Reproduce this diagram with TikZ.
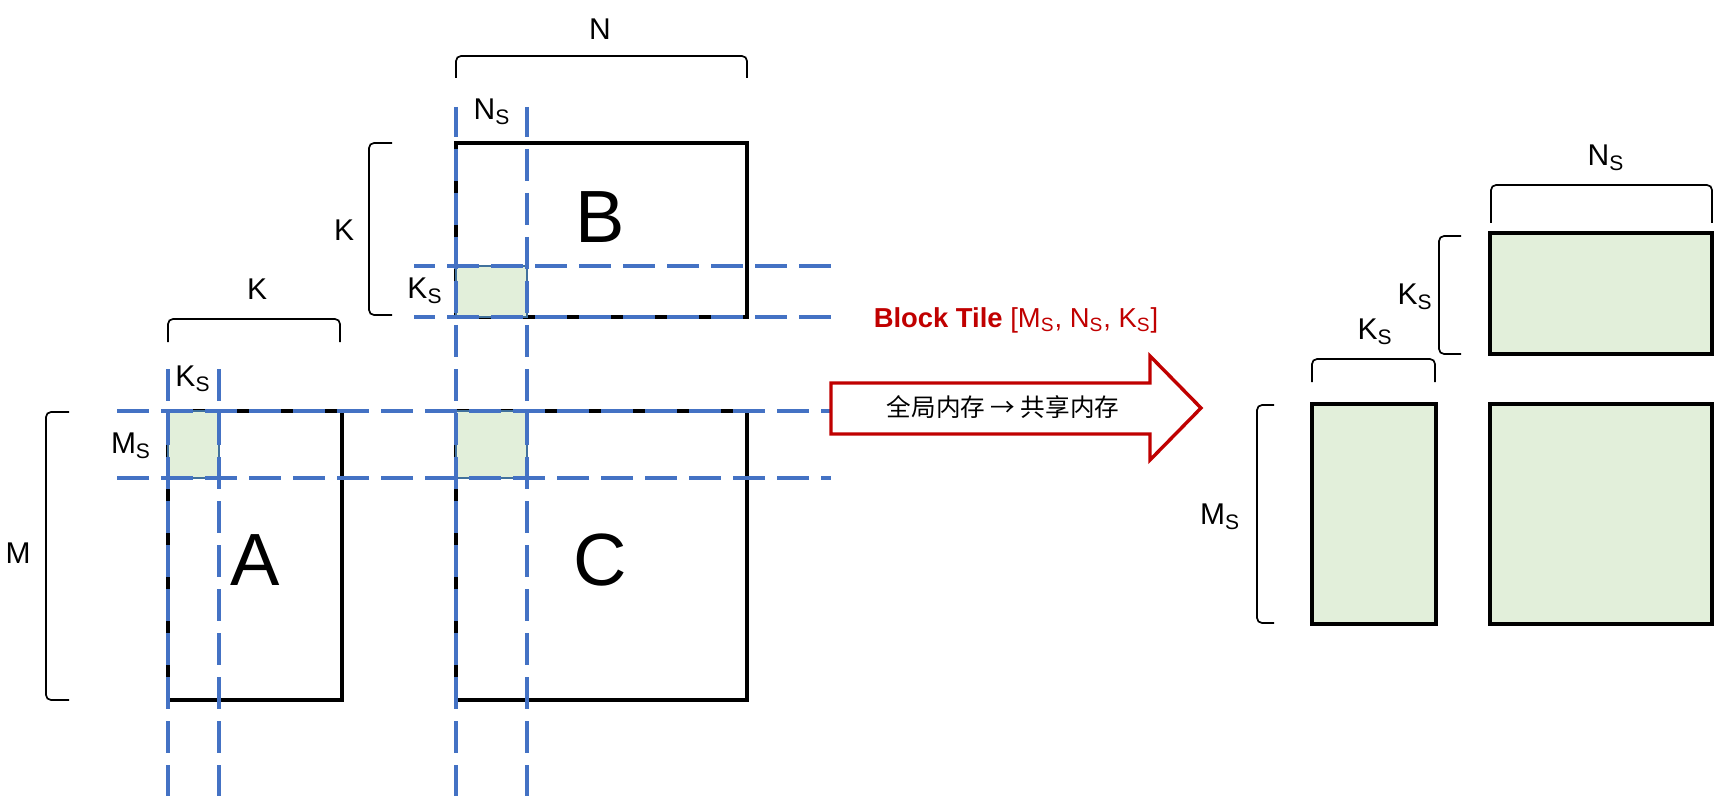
\documentclass[tikz,border=0pt]{standalone}
\usepackage{fontspec}
\setmainfont{Liberation Sans}
\newfontfamily\cjkfont{Noto Sans CJK SC}
\definecolor{guideblue}{HTML}{4472C4}
\definecolor{tilegreen}{HTML}{E2EFDA}
\definecolor{tileedge}{HTML}{41719C}
\definecolor{tilered}{HTML}{C00000}
\begin{document}
\begin{tikzpicture}[x=0.5pt,y=-0.5pt,
  mat/.style={draw=black, line width=2pt},
  tile/.style={fill=tilegreen, draw=tileedge, line width=1.1pt},
  smem/.style={fill=tilegreen, draw=black, line width=2pt},
  guide/.style={draw=guideblue, line width=2pt, dash pattern=on 16pt off 6pt},
  brk/.style={draw=black, line width=0.85pt, rounded corners=2.5pt},
  lbl/.style={font=\fontsize{15}{18}\selectfont, inner sep=0pt},
  big/.style={font=\fontsize{37}{40}\selectfont, inner sep=0pt},
  blockarrow/.style={draw=tilered, line width=1.7pt, fill=white, line join=miter}
]
\useasboundingbox (0,0) rectangle (1732,796);

% ---------- matrices (left) ----------
\draw[mat] (456,143) rectangle (747,317);
\draw[mat] (168,411) rectangle (342,700);
\draw[mat] (456,411) rectangle (747,700);

% ---------- tiles ----------
\draw[tile] (456,266) rectangle (527,317);
\draw[tile] (168,411) rectangle (219,478);
\draw[tile] (456,411) rectangle (527,478);

% ---------- guide lines ----------
\coordinate (h1s) at (414,266); \coordinate (h1e) at (831,266);
\coordinate (h2s) at (414,317); \coordinate (h2e) at (831,317);
\coordinate (h3s) at (117,411); \coordinate (h3e) at (831,411);
\coordinate (h4s) at (117,478); \coordinate (h4e) at (831,478);
\coordinate (v1s) at (168,369); \coordinate (v1e) at (168,796);
\coordinate (v2s) at (219,369); \coordinate (v2e) at (219,796);
\coordinate (v3s) at (456,107); \coordinate (v3e) at (456,796);
\coordinate (v4s) at (527,107); \coordinate (v4e) at (527,796);
\draw[guide, dash phase=5.5pt] (h1s) -- (h1e);
\draw[guide, dash phase=5.5pt] (h2s) -- (h2e);
\draw[guide] (h3s) -- (h3e);
\draw[guide] (h4s) -- (h4e);
\draw[guide] (v1s) -- (v1e);
\draw[guide] (v2s) -- (v2e);
\draw[guide, dash phase=1pt] (v3s) -- (v3e);
\draw[guide, dash phase=1pt] (v4s) -- (v4e);

% ---------- brackets (left) ----------
\draw[brk] (456,78) -- (456,56) -- (747,56) -- (747,78);
\draw[brk] (392,143) -- (369,143) -- (369,315) -- (392,315);
\draw[brk] (168,342) -- (168,319) -- (340,319) -- (340,342);
\draw[brk] (69,412) -- (46,412) -- (46,700) -- (69,700);

% ---------- labels (left) ----------
\node[lbl] (lN)   at (600,29)  {N};
\node[lbl] (lNs)  at (492,112) {N\textsubscript{S}};
\node[lbl] (lKb)  at (344,230) {K};
\node[lbl] (lKsb) at (425,291) {K\textsubscript{S}};
\node[lbl] (lKa)  at (257,289) {K};
\node[lbl] (lKsa) at (193,379) {K\textsubscript{S}};
\node[lbl] (lMs)  at (131,446) {M\textsubscript{S}};
\node[lbl] (lM)   at (18,553)  {M};
\node[big] (nA) at (255,560) {A};
\node[big] (nB) at (600,217) {B};
\node[big] (nC) at (600,560) {C};

% ---------- block arrow ----------
\draw[blockarrow] (831,383) -- (1150,383) -- (1150,356) -- (1201,408)
  -- (1150,460) -- (1150,434) -- (831,434) -- cycle;
\node[inner sep=0pt, font=\cjkfont\fontsize{12.3}{14}\selectfont] (move) at (1003,407)
  {全局内存 → 共享内存};
\node[inner sep=0pt, text=tilered, font=\fontsize{13.7}{16}\selectfont] (title) at (1016,320)
  {\textbf{Block Tile} [M\textsubscript{S}, N\textsubscript{S}, K\textsubscript{S}]};

% ---------- shared memory tiles (right) ----------
\draw[smem] (1490,233) rectangle (1712,354);
\draw[smem] (1312,404) rectangle (1436,624);
\draw[smem] (1490,404) rectangle (1712,624);

\draw[brk] (1491,223) -- (1491,185) -- (1712,185) -- (1712,223);
\draw[brk] (1461,236) -- (1439,236) -- (1439,354) -- (1461,354);
\draw[brk] (1312,382) -- (1312,359) -- (1435,359) -- (1435,382);
\draw[brk] (1274,405) -- (1257,405) -- (1257,623) -- (1274,623);

\node[lbl] (rNs)  at (1606,158) {N\textsubscript{S}};
\node[lbl] (rKs1) at (1415,297) {K\textsubscript{S}};
\node[lbl] (rKs2) at (1375,332) {K\textsubscript{S}};
\node[lbl] (rMs)  at (1220,517) {M\textsubscript{S}};
\end{tikzpicture}
\end{document}
